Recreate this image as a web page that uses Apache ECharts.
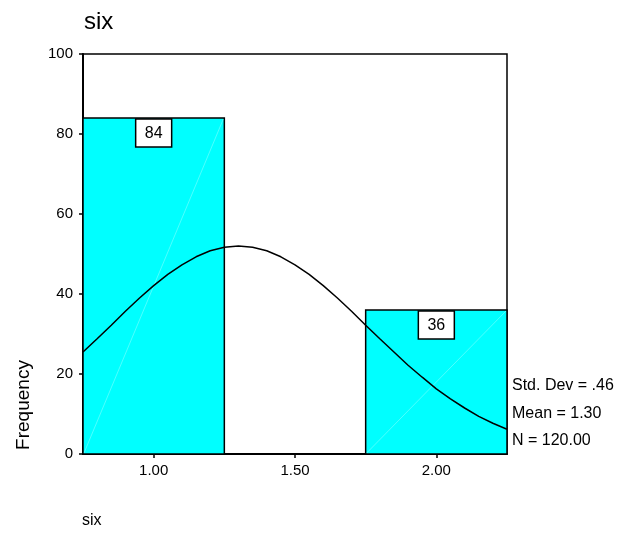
<!DOCTYPE html>
<html>
<head>
<meta charset="utf-8">
<script src="https://cdn.jsdelivr.net/npm/echarts@6/dist/echarts.min.js"></script>
<style>html,body{margin:0;padding:0;background:#fff;}#c{width:624px;height:535px;}</style>
</head>
<body>
<div id="c"></div>
<script>
// Histogram bins: [start, end, count]
const binStarts = [0.75, 1.75];
const binEnds = [1.25, 2.25];
const binCounts = [84, 36];
// Normal curve
const curveX = [0.75,0.80,0.85,0.90,0.95,1.00,1.05,1.10,1.15,1.20,1.25,1.30,1.35,1.40,1.45,1.50,1.55,1.60,1.65,1.70,1.75,1.80,1.85,1.90,1.95,2.00,2.05,2.10,2.15,2.20,2.25];
const curveY = [25.5,28.8,32.2,35.7,39.0,42.1,44.9,47.3,49.3,50.8,51.7,52.0,51.7,50.8,49.3,47.3,44.9,42.1,39.0,35.7,32.2,28.8,25.5,22.2,19.2,16.3,13.8,11.5,9.4,7.7,6.2];
const xTicks = [1.0, 1.5, 2.0];
const statLines = ['Std. Dev = .46', 'Mean = 1.30', 'N = 120.00'];

const FONT = '"Liberation Sans", Arial, Helvetica, sans-serif';
const chart = echarts.init(document.getElementById('c'), null, {renderer: 'canvas'});

const barData = binStarts.map((s, i) => [s, binEnds[i], binCounts[i]]);
const lineData = curveX.map((x, i) => [x, curveY[i]]);

chart.setOption({
  animation: false,
  backgroundColor: '#fff',
  title: {
    text: 'six', left: 79, top: 5,
    textStyle: {fontFamily: FONT, fontSize: 24, fontWeight: 'normal', color: '#000'}
  },
  grid: {left: 83, right: 117, top: 54, bottom: 81, show: true, borderColor: '#000', borderWidth: 1.5, backgroundColor: 'transparent'},
  xAxis: {
    type: 'value', min: 0.75, max: 2.25,
    axisLine: {show: true, onZero: false, lineStyle: {color: '#000', width: 2}},
    axisTick: {show: true, customValues: xTicks, length: 4, lineStyle: {color: '#000', width: 1.5}},
    axisLabel: {customValues: xTicks, formatter: v => v.toFixed(2), color: '#000', fontFamily: FONT, fontSize: 15, margin: 9},
    splitLine: {show: false}
  },
  yAxis: {
    type: 'value', min: 0, max: 100, interval: 20,
    axisLine: {show: true, lineStyle: {color: '#000', width: 2}},
    axisTick: {show: true, length: 4, lineStyle: {color: '#000', width: 1.5}},
    axisLabel: {color: '#000', fontFamily: FONT, fontSize: 15, margin: 10},
    splitLine: {show: false}
  },
  graphic: [
    {type: 'text', x: 24, y: 405, rotation: Math.PI / 2, style: {text: 'Frequency', font: '19px ' + FONT, fill: '#000', align: 'center', verticalAlign: 'middle'}},
    {type: 'text', x: 82, y: 521, style: {text: 'six', font: '16px ' + FONT, fill: '#000', align: 'left', verticalAlign: 'middle'}},
    ...statLines.map((t, i) => ({type: 'text', x: 512, y: 386 + i * 27.5, style: {text: t, font: '16px ' + FONT, fill: '#000', align: 'left', verticalAlign: 'middle'}}))
  ],
  series: [
    {
      type: 'custom',
      data: barData,
      z: 2,
      renderItem: function (params, api) {
        const x0 = api.value(0), x1 = api.value(1), v = api.value(2);
        const p0 = api.coord([x0, v]);
        const p1 = api.coord([x1, 0]);
        const cx = (p0[0] + p1[0]) / 2;
        return {
          type: 'group',
          children: [
            {type: 'rect', shape: {x: p0[0], y: p0[1], width: p1[0] - p0[0], height: p1[1] - p0[1]}, style: {fill: '#00FFFF', stroke: '#000', lineWidth: 1.5}},
            {type: 'line', shape: {x1: p0[0] + 1, y1: p1[1] - 1, x2: p1[0] - 1, y2: p0[1] + 1}, style: {stroke: 'rgba(255,255,255,0.3)', lineWidth: 1}},
            {type: 'rect', shape: {x: cx - 18, y: p0[1] + 1, width: 36, height: 28}, style: {fill: '#fff', stroke: '#000', lineWidth: 1.5}},
            {type: 'text', style: {text: String(v), x: cx, y: p0[1] + 15.5, align: 'center', verticalAlign: 'middle', font: '16px ' + FONT, fill: '#000'}}
          ]
        };
      }
    },
    {
      type: 'line',
      data: lineData,
      z: 3,
      symbol: 'none',
      smooth: false,
      lineStyle: {color: '#000', width: 1.5}
    }
  ]
});
</script>
</body>
</html>
